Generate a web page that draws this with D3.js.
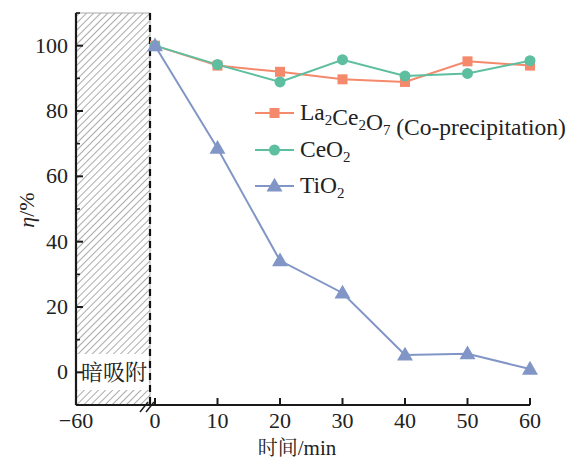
<!DOCTYPE html>
<html><head><meta charset="utf-8">
<script src="https://cdn.jsdelivr.net/npm/d3@7/dist/d3.min.js"></script>
<style>body{margin:0;background:#fff}</style>
</head><body><svg id="c" width="570" height="460"></svg>
<script>
const times = [0, 10, 20, 30, 40, 50, 60];
const la2ce2o7 = [100, 93.9, 92.0, 89.7, 88.9, 95.2, 93.9];
const ceo2 = [100, 94.2, 88.9, 95.7, 90.7, 91.5, 95.4];
const tio2 = [100, 68.6, 34.2, 24.3, 5.3, 5.7, 1.0];
const xTicks = [-60, 0, 10, 20, 30, 40, 50, 60];
const yTicks = [0, 20, 40, 60, 80, 100];
const yMinor = [-10, 10, 30, 50, 70, 90, 110];
const seriesNames = [["La", "2", "Ce", "2", "O", "7", " (Co-precipitation)"], ["CeO", "2"], ["TiO", "2"]];
const colors = ["#f5896b", "#5ebea0", "#8196c6"];

const SERIF = "Liberation Serif";
const CJK = "'Noto Serif CJK SC', 'Noto Sans CJK SC'";
const svg = d3.select("#c");
const x = d3.scaleLinear().domain([-60, 0, 60]).range([76, 155, 530]);
const y = d3.scaleLinear().domain([-10, 110]).range([405, 13]);
const xb = x(0) - 5; // break / dashed line position

// hatch pattern
const defs = svg.append("defs");
const pat = defs.append("pattern").attr("id", "h").attr("patternUnits", "userSpaceOnUse")
  .attr("width", 5).attr("height", 5).attr("patternTransform", "rotate(45)");
pat.append("line").attr("x1", 0).attr("y1", 0).attr("x2", 0).attr("y2", 5)
  .attr("stroke", "#444").attr("stroke-width", 0.9);

svg.append("rect").attr("x", x(-60)).attr("y", y(110)).attr("width", xb - x(-60)).attr("height", y(-10) - y(110))
  .attr("fill", "url(#h)").attr("stroke", "#aaa").attr("stroke-width", 1);
// label box
svg.append("rect").attr("x", x(-60) + 1).attr("y", 354).attr("width", xb - x(-60) - 2).attr("height", 36).attr("fill", "#fff");
svg.append("text").attr("font-family", CJK).attr("x", (x(-60) + xb) / 2 + 1).attr("y", 380).attr("text-anchor", "middle")
  .attr("font-size", 22).attr("fill", "#222").text("暗吸附");

// dashed line
svg.append("line").attr("x1", xb).attr("x2", xb).attr("y1", y(110)).attr("y2", y(-10))
  .attr("stroke", "#111").attr("stroke-width", 2.2).attr("stroke-dasharray", "7,5");

// axes
const ax = "#1a1a1a";
svg.append("line").attr("x1", x(-60)).attr("x2", x(60)).attr("y1", y(-10)).attr("y2", y(-10)).attr("stroke", ax).attr("stroke-width", 2.2);
svg.append("line").attr("x1", x(-60)).attr("x2", x(-60)).attr("y1", y(110)).attr("y2", y(-10)).attr("stroke", ax).attr("stroke-width", 2.2);

xTicks.forEach(t => {
  if (t !== -60) svg.append("line").attr("x1", x(t)).attr("x2", x(t)).attr("y1", y(-10)).attr("y2", y(-10) - 7).attr("stroke", ax).attr("stroke-width", 2);
  svg.append("text").attr("font-family", SERIF).attr("x", x(t)).attr("y", 428).attr("text-anchor", "middle").attr("font-size", 22).attr("fill", "#222")
    .text(t < 0 ? "\u2212" + Math.abs(t) : t);
});
yTicks.forEach(t => {
  svg.append("line").attr("x1", x(-60)).attr("x2", x(-60) + 7).attr("y1", y(t)).attr("y2", y(t)).attr("stroke", ax).attr("stroke-width", 2);
  svg.append("text").attr("font-family", SERIF).attr("x", 68).attr("y", y(t) + 7).attr("text-anchor", "end").attr("font-size", 22).attr("fill", "#222").text(t);
});
yMinor.forEach(t => {
  svg.append("line").attr("x1", x(-60)).attr("x2", x(-60) + 4).attr("y1", y(t)).attr("y2", y(t)).attr("stroke", ax).attr("stroke-width", 1.6);
});
// break marks
[0, 6].forEach(d => {
  svg.append("line").attr("x1", xb - 10 + d).attr("y1", y(-10) + 7).attr("x2", xb - 2 + d).attr("y2", y(-10) - 3)
    .attr("stroke", ax).attr("stroke-width", 1.4);
});

// axis titles
const xt = svg.append("text").attr("font-family", SERIF).attr("x", 297).attr("y", 455).attr("text-anchor", "middle").attr("font-size", 20).attr("fill", "#222");
xt.append("tspan").attr("font-family", CJK).text("时间");
xt.append("tspan").attr("font-size", 21).text("/min");
const yt = svg.append("text").attr("font-family", SERIF).attr("transform", "translate(34,210) rotate(-90)").attr("text-anchor", "middle").attr("font-size", 22).attr("fill", "#222");
yt.append("tspan").attr("font-style", "italic").text("η");
yt.append("tspan").text("/%");

// series
const data = [la2ce2o7, ceo2, tio2];
const line = d3.line().x((d, i) => x(times[i])).y(d => y(d));
const sym = [d3.symbolSquare, d3.symbolCircle, d3.symbolTriangle];
const symSize = [100, 95, 110];
data.forEach((s, k) => {
  svg.append("path").datum(s).attr("d", line).attr("fill", "none").attr("stroke", colors[k]).attr("stroke-width", 2);
});
data.forEach((s, k) => {
  svg.selectAll(null).data(s).enter().append("path")
    .attr("d", d3.symbol().type(sym[k]).size(symSize[k]))
    .attr("transform", (d, i) => `translate(${x(times[i])},${y(d) + (k === 2 ? 1 : 0)})`)
    .attr("fill", colors[k]);
});

// legend
const ly = [113, 150, 186];
seriesNames.forEach((parts, k) => {
  svg.append("line").attr("x1", 255).attr("x2", 294).attr("y1", ly[k]).attr("y2", ly[k]).attr("stroke", colors[k]).attr("stroke-width", 2);
  svg.append("path").attr("d", d3.symbol().type(sym[k]).size(symSize[k])).attr("transform", `translate(274.5,${ly[k] + (k === 2 ? 1 : 0)})`).attr("fill", colors[k]);
  const t = svg.append("text").attr("font-family", SERIF).attr("x", 300).attr("y", ly[k] + 7).attr("font-size", 23.5).attr("fill", "#222");
  parts.forEach((p, j) => {
    if (j % 2 === 1 && /^\d$/.test(p)) {
      t.append("tspan").attr("font-size", 15).attr("dy", 5).text(p);
      t.append("tspan").attr("dy", -5).text("");
    } else t.append("tspan").text(p);
  });
});
</script></body></html>
